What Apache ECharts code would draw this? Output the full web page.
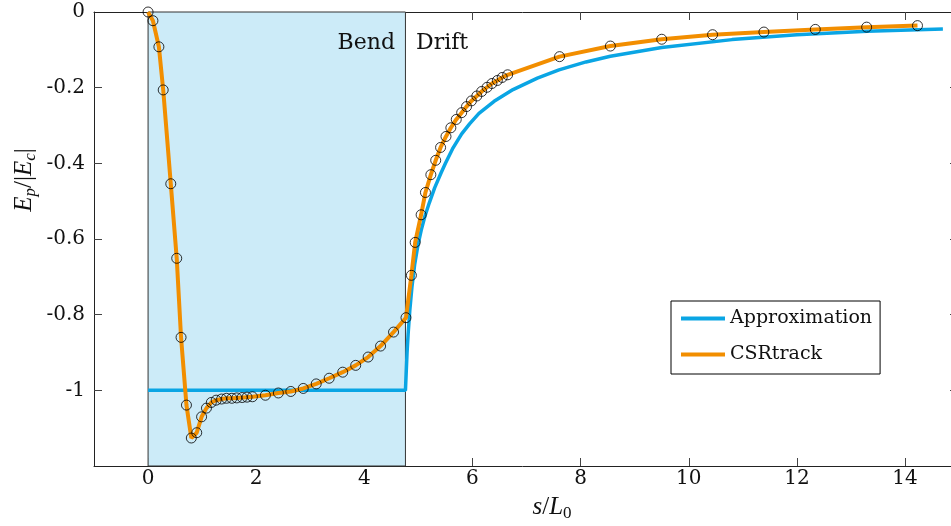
<!DOCTYPE html>
<html>
<head>
<meta charset="utf-8">
<script src="https://cdn.jsdelivr.net/npm/echarts@6/dist/echarts.min.js"></script>
<style>
  html, body { margin: 0; padding: 0; background: #fff; }
  #chart { width: 951px; height: 526px; }
</style>
</head>
<body>
<div id="chart"></div>
<script>
// CSRtrack samples (the circles)
var csrX = [0, 0.09, 0.2, 0.28, 0.42, 0.53, 0.61, 0.71, 0.8, 0.9,
  0.99, 1.08, 1.17, 1.26, 1.36, 1.45, 1.55, 1.64, 1.74, 1.83,
  1.93, 2.17, 2.41, 2.64, 2.87, 3.11, 3.35, 3.6, 3.84, 4.07,
  4.3, 4.54, 4.77, 4.87, 4.94, 5.05, 5.13, 5.23, 5.32, 5.41,
  5.51, 5.6, 5.7, 5.8, 5.89, 5.98, 6.08, 6.17, 6.27, 6.36,
  6.46, 6.55, 6.65, 7.61, 8.55, 9.5, 10.44, 11.39, 12.34, 13.29,
  14.23];
var csrY = [0, -0.023, -0.092, -0.206, -0.454, -0.651, -0.86, -1.039, -1.126, -1.112,
  -1.07, -1.047, -1.032, -1.026, -1.023, -1.021, -1.021, -1.02, -1.019, -1.018,
  -1.017, -1.013, -1.007, -1.003, -0.995, -0.983, -0.968, -0.952, -0.934, -0.912,
  -0.883, -0.846, -0.808, -0.696, -0.609, -0.536, -0.477, -0.43, -0.392, -0.358,
  -0.329, -0.306, -0.284, -0.266, -0.25, -0.235, -0.222, -0.21, -0.199, -0.189,
  -0.181, -0.173, -0.166, -0.118, -0.09, -0.072, -0.06, -0.053, -0.046, -0.04,
  -0.036];

// approximation: -1 inside the bend, then decays in the drift
var approxX = [0, 4.76, 4.775, 4.79, 4.81, 4.84, 4.88, 4.93, 4.99, 5.05,
  5.12, 5.2, 5.3, 5.42, 5.5, 5.63, 5.8, 5.95, 6.12, 6.4,
  6.75, 7.2, 7.6, 8.1, 8.55, 9.5, 10.8, 12.0, 13.3, 14.7];
var approxY = [-1, -1, -0.95, -0.9, -0.85, -0.79, -0.727, -0.668, -0.617, -0.578,
  -0.54, -0.505, -0.465, -0.425, -0.4, -0.362, -0.322, -0.295, -0.268, -0.236,
  -0.205, -0.175, -0.153, -0.132, -0.117, -0.094, -0.073, -0.06, -0.051, -0.045];

var xTicks = [0, 2, 4, 6, 8, 10, 12, 14];
var yTicks = [0, -0.2, -0.4, -0.6, -0.8, -1];
var yInnerTicks = [-0.2, -0.4, -0.6, -0.8, -1];
var bendStart = 0;
var bendEnd = 4.76;

function zip(xs, ys) {
  var out = [];
  for (var i = 0; i < xs.length; i++) {
    out.push([xs[i], ys[i]]);
  }
  return out;
}

var serif = 'DejaVu Serif';
var mathFont = 'Liberation Serif';
var axisColor = '#222';
var blue = '#0AA5E4';
var orange = '#F28E00';

var chart = echarts.init(document.getElementById('chart'));

function xAx(pos, labels) {
  return {
    type: 'value', min: -1, max: 14.85, position: pos,
    axisLine: {onZero: false, lineStyle: {color: axisColor, width: 1}},
    splitLine: {show: false},
    axisTick: {inside: true, length: 8, customValues: xTicks, lineStyle: {color: '#444'}},
    axisLabel: {show: labels, customValues: xTicks, margin: 3,
      fontFamily: serif, fontSize: 20, color: '#111'}
  };
}

function yAx(pos, labels) {
  var ax = {
    type: 'value', min: -1.2, max: 0, position: pos,
    axisLine: {onZero: false, lineStyle: {color: axisColor, width: 1}},
    splitLine: {show: false},
    axisTick: {inside: true, length: 8, customValues: yInnerTicks, lineStyle: {color: '#444'}},
    axisLabel: {show: labels, customValues: yTicks, margin: 9,
      fontFamily: serif, fontSize: 20, color: '#111'}
  };
  if (!labels) {
    // right frame is cut off by the picture edge, only tick stubs remain
    ax.axisLine.show = false;
    ax.axisTick.length = 1;
  }
  return ax;
}

var options = {
  animation: false,
  backgroundColor: '#fff',
  grid: {left: 94, top: 12, right: 0, height: 454},
  xAxis: [xAx('bottom', true), xAx('top', false)],
  yAxis: [yAx('left', true), yAx('right', false)],
  legend: {
    data: [{name: 'Approximation', icon: 'rect'}, {name: 'CSRtrack', icon: 'rect'}],
    orient: 'vertical',
    left: 671, top: 301,
    itemWidth: 44, itemHeight: 4, itemGap: 17,
    padding: [8, 8, 10, 10],
    borderColor: '#000', borderWidth: 1, borderRadius: 0,
    backgroundColor: '#fff',
    selectedMode: false,
    textStyle: {fontFamily: serif, fontSize: 19, color: '#111'}
  },
  graphic: [
    {type: 'text', x: 395, y: 43, z: 50,
      style: {text: 'Bend', fontFamily: serif, fontSize: 22, fill: '#111', align: 'right', verticalAlign: 'middle'}},
    {type: 'text', x: 416, y: 43, z: 50,
      style: {text: 'Drift', fontFamily: serif, fontSize: 22, fill: '#111', align: 'left', verticalAlign: 'middle'}},
    {type: 'text', x: 552, y: 507, z: 50,
      style: {
        text: '{i|s}{n|/}{i|L}{s|0}', align: 'center', verticalAlign: 'middle', fill: '#111',
        rich: {
          i: {fontFamily: mathFont, fontStyle: 'italic', fontSize: 25, lineHeight: 30},
          n: {fontFamily: mathFont, fontSize: 25, lineHeight: 30},
          s: {fontFamily: mathFont, fontSize: 17, lineHeight: 16, verticalAlign: 'bottom'}
        }
      }},
    {type: 'text', x: 24, y: 180, z: 50, rotation: Math.PI / 2,
      style: {
        text: '{i|E}{s|p}{n|/|}{i|E}{s|c}{n||}', align: 'center', verticalAlign: 'middle', fill: '#111',
        rich: {
          i: {fontFamily: mathFont, fontStyle: 'italic', fontSize: 25, lineHeight: 30},
          n: {fontFamily: mathFont, fontSize: 25, lineHeight: 30},
          s: {fontFamily: mathFont, fontStyle: 'italic', fontSize: 17, lineHeight: 16, verticalAlign: 'bottom'}
        }
      }}
  ],
  series: [
    {
      name: 'Approximation',
      type: 'line',
      data: zip(approxX, approxY),
      symbol: 'none',
      lineStyle: {color: blue, width: 3.5},
      itemStyle: {color: blue},
      z: 2,
      markArea: {
        silent: true,
        itemStyle: {color: '#CCEBF8', borderColor: '#333', borderWidth: 1},
        data: [[{xAxis: bendStart}, {xAxis: bendEnd}]]
      }
    },
    {
      name: 'CSRtrack',
      type: 'line',
      data: zip(csrX, csrY),
      symbol: 'none',
      lineStyle: {color: orange, width: 4},
      itemStyle: {color: orange},
      z: 3
    },
    {
      name: 'CSRtrack points',
      type: 'scatter',
      data: zip(csrX, csrY),
      symbol: 'circle',
      symbolSize: 10,
      itemStyle: {color: 'rgba(0,0,0,0)', borderColor: '#000', borderWidth: 1},
      z: 4
    }
  ]
};

chart.setOption(options);
</script>
</body>
</html>
